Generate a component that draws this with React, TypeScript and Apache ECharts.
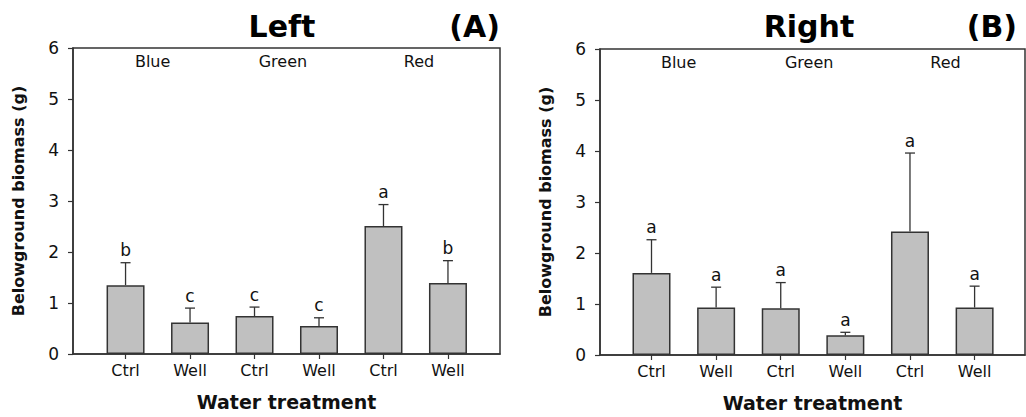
import React, { useEffect, useRef } from "react";
import * as echarts from "echarts";

const categories = ["Ctrl", "Well", "Ctrl", "Well", "Ctrl", "Well"];
const groups = ["Blue", "Green", "Red"];
const groupPos = [0.42, 2.44, 4.55];
const groupY = 5.73;
const leftMeans = [1.35, 0.62, 0.745, 0.55, 2.51, 1.39];
const leftUpper = [1.79, 0.9, 0.92, 0.71, 2.93, 1.83];
const leftLetters = ["b", "c", "c", "c", "a", "b"];
const rightMeans = [1.61, 0.93, 0.915, 0.385, 2.42, 0.93];
const rightUpper = [2.26, 1.33, 1.42, 0.445, 3.96, 1.35];
const rightLetters = ["a", "a", "a", "a", "a", "a"];
const yTicks = [0, 1, 2, 3, 4, 5, 6];
const titles = ["Left", "Right"];
const panelTags = ["(A)", "(B)"];
const yName = "Belowground biomass (g)";
const xName = "Water treatment";

const FONT = "DejaVu Sans";
const AX = "#333";
const TXT = "#111";

export default function App() {
  const ref = useRef<HTMLDivElement>(null);
  useEffect(() => {
    if (!ref.current) return;
    const chart = echarts.init(ref.current, undefined, { renderer: "svg" });
    const idx = categories.map((_, i) => i);
    const grids = [
      { left: 73, top: 48, width: 427, height: 306, xmin: -0.815, xmax: 5.807 },
      { left: 600, top: 49, width: 425, height: 306, xmin: -0.797, xmax: 5.78 },
    ];
    const panels = [
      { means: leftMeans, upper: leftUpper, letters: leftLetters },
      { means: rightMeans, upper: rightUpper, letters: rightLetters },
    ];
    const xAxis: any[] = grids.map((g, gi) => ({
      type: "value",
      gridIndex: gi,
      min: g.xmin,
      max: g.xmax,
      name: xName,
      nameLocation: "middle",
      nameGap: 38,
      nameTextStyle: { fontFamily: FONT, fontWeight: "bold", fontSize: 19, color: TXT },
      axisLine: { show: true, onZero: false, lineStyle: { color: AX, width: 1.5 } },
      axisTick: { show: true, length: 5, customValues: idx, lineStyle: { color: AX, width: 1.2 } },
      axisLabel: {
        customValues: idx,
        formatter: (v: number) => categories[Math.round(v)] ?? "",
        fontFamily: FONT,
        fontSize: 16,
        color: TXT,
        margin: 8,
      },
      splitLine: { show: false },
    }));
    const yAxis: any[] = grids.map((g, gi) => ({
      type: "value",
      gridIndex: gi,
      min: yTicks[0],
      max: yTicks[yTicks.length - 1],
      interval: 1,
      name: yName,
      nameLocation: "middle",
      nameGap: 47,
      nameTextStyle: { fontFamily: FONT, fontWeight: "bold", fontSize: 16, color: TXT },
      axisLine: { show: true, onZero: false, lineStyle: { color: AX, width: 1.5 } },
      axisTick: { show: true, length: 5, lineStyle: { color: AX, width: 1.2 } },
      axisLabel: { fontFamily: FONT, fontSize: 17, color: TXT, margin: 14 },
      splitLine: { show: false },
    }));
    const series: any[] = [];
    panels.forEach((p, gi) => {
      series.push({
        type: "bar",
        xAxisIndex: gi,
        yAxisIndex: gi,
        barWidth: 38,
        data: p.means.map((m, i) => [i, m]),
        itemStyle: { color: "#c0c0c0", borderColor: "#333", borderWidth: 1.5 },
        silent: true,
      });
      series.push({
        type: "custom",
        xAxisIndex: gi,
        yAxisIndex: gi,
        data: p.means.map((m, i) => [i, m, p.upper[i]]),
        encode: { x: 0, y: [1, 2] },
        renderItem: (params: any, api: any) => {
          const x = api.value(0);
          const lo = api.coord([x, api.value(1)]);
          const hi = api.coord([x, api.value(2)]);
          const st = { stroke: "#333", lineWidth: 1.3 };
          return {
            type: "group",
            children: [
              { type: "line", shape: { x1: lo[0], y1: lo[1], x2: hi[0], y2: hi[1] }, style: st },
              { type: "line", shape: { x1: hi[0] - 5, y1: hi[1], x2: hi[0] + 5, y2: hi[1] }, style: st },
              {
                type: "text",
                x: hi[0],
                y: hi[1] - 4,
                style: {
                  text: p.letters[params.dataIndex],
                  font: `17px ${FONT}`,
                  fill: TXT,
                  textAlign: "center",
                  textVerticalAlign: "bottom",
                },
              },
            ],
          };
        },
        z: 3,
        silent: true,
      });
      series.push({
        type: "scatter",
        xAxisIndex: gi,
        yAxisIndex: gi,
        symbolSize: 0,
        itemStyle: { opacity: 1 },
        data: groups.map((g, i) => ({ value: [groupPos[i], groupY], name: g })),
        label: {
          show: true,
          position: "inside",
          formatter: (d: any) => d.name,
          fontFamily: FONT,
          fontSize: 16,
          color: TXT,
          opacity: 1,
        },
        silent: true,
      });
    });
    const graphic: any[] = [];
    const titleX = [282, 809];
    const tagX = [500, 1017];
    titles.forEach((t, i) => {
      graphic.push({
        type: "text",
        x: titleX[i],
        y: 26,
        style: { text: t, font: `bold 30px ${FONT}`, fill: "#000", textAlign: "center", textVerticalAlign: "middle" },
      });
      graphic.push({
        type: "text",
        x: tagX[i],
        y: 26,
        style: { text: panelTags[i], font: `bold 30px ${FONT}`, fill: "#000", textAlign: "right", textVerticalAlign: "middle" },
      });
    });
    chart.setOption({
      animation: false,
      backgroundColor: "#fff",
      grid: grids.map((g) => ({
        left: g.left,
        top: g.top,
        width: g.width,
        height: g.height,
        show: true,
        borderColor: AX,
        borderWidth: 1.5,
        backgroundColor: "transparent",
      })),
      xAxis,
      yAxis,
      series,
      graphic,
    });
    return () => chart.dispose();
  }, []);
  return (
    <div
      ref={ref}
      style={{ position: "absolute", left: 0, top: 0, width: 1026, height: 417 }}
    />
  );
}
